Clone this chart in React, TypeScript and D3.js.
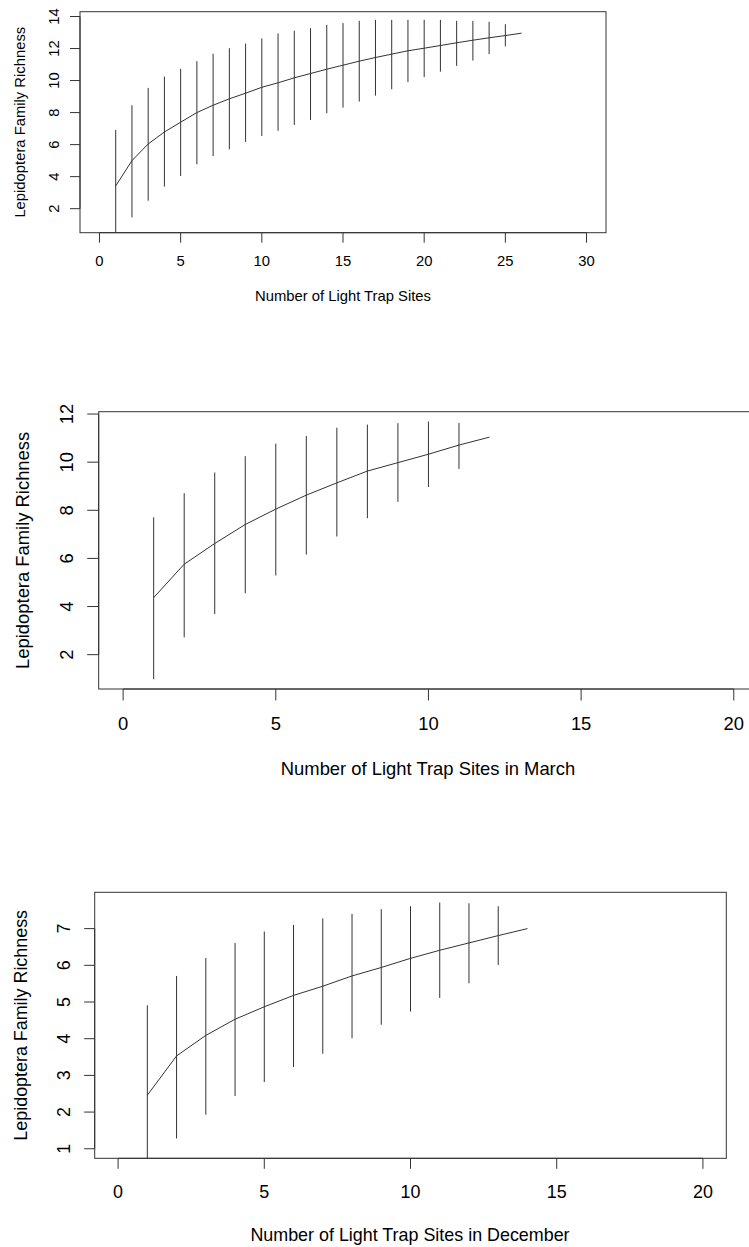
import React from "react";
import * as d3 from "d3";

// ---- Data: all light trap sites (x = 1..26) ----
const allSites = d3.range(1, 27);
const allMean = [3.42, 5.0, 6.04, 6.79, 7.4, 8.0, 8.46, 8.86, 9.21, 9.58, 9.86, 10.17, 10.44, 10.71, 10.96, 11.21, 11.44, 11.65, 11.86, 12.02, 12.19, 12.36, 12.52, 12.67, 12.81, 12.96];
const allUpper = [6.92, 8.46, 9.54, 10.25, 10.73, 11.21, 11.67, 12.02, 12.31, 12.63, 12.94, 13.11, 13.27, 13.48, 13.59, 13.73, 13.79, 13.79, 13.79, 13.79, 13.79, 13.73, 13.73, 13.67, 13.52, 12.96];
const allLower = [-0.08, 1.46, 2.5, 3.38, 4.04, 4.77, 5.29, 5.71, 6.17, 6.54, 6.86, 7.23, 7.54, 7.96, 8.31, 8.69, 9.06, 9.46, 9.9, 10.21, 10.56, 10.92, 11.25, 11.65, 12.13, 12.96];

// ---- Data: March (x = 1..12) ----
const marchSites = d3.range(1, 13);
const marchMean = [4.37, 5.76, 6.62, 7.41, 8.05, 8.63, 9.14, 9.63, 9.98, 10.33, 10.71, 11.04];
const marchUpper = [7.71, 8.71, 9.57, 10.25, 10.77, 11.09, 11.43, 11.56, 11.62, 11.69, 11.63, 11.04];
const marchLower = [0.98, 2.72, 3.69, 4.55, 5.29, 6.16, 6.91, 7.67, 8.35, 8.97, 9.72, 11.04];

// ---- Data: December (x = 1..14) ----
const decSites = d3.range(1, 15);
const decMean = [2.46, 3.53, 4.09, 4.53, 4.87, 5.18, 5.43, 5.71, 5.94, 6.19, 6.41, 6.61, 6.81, 7.0];
const decUpper = [4.91, 5.71, 6.2, 6.61, 6.92, 7.1, 7.28, 7.4, 7.53, 7.61, 7.71, 7.69, 7.61, 7.0];
const decLower = [0.01, 1.28, 1.93, 2.44, 2.82, 3.23, 3.59, 4.01, 4.38, 4.74, 5.11, 5.51, 6.01, 7.0];

const xTicksAll = [0, 5, 10, 15, 20, 25, 30];
const xTicksMonth = [0, 5, 10, 15, 20];
const yTicksAll = [2, 4, 6, 8, 10, 12, 14];
const yTicksMarch = [2, 4, 6, 8, 10, 12];
const yTicksDec = [1, 2, 3, 4, 5, 6, 7];

const yTitle = "Lepidoptera Family Richness";

const FONT = "'Liberation Sans', Arial, Helvetica, sans-serif";
const INK = "#333";

type PanelProps = {
  id: string;
  sites: number[];
  mean: number[];
  upper: number[];
  lower: number[];
  xDomain: [number, number];
  yDomain: [number, number];
  box: { left: number; right: number; top: number; bottom: number };
  xTicks: number[];
  yTicks: number[];
  xTitle: string;
  fontSize: number;
  tickLen: number;
  yTickLabelX: number;
  yTitleX: number;
  xTickLabelY: number;
  xTitleY: number;
  xTitleX: number;
};

function Panel(p: PanelProps) {
  const x = d3.scaleLinear().domain(p.xDomain).range([p.box.left, p.box.right]);
  const y = d3.scaleLinear().domain(p.yDomain).range([p.box.bottom, p.box.top]);
  const line = d3
    .line<number>()
    .x((_, i) => x(p.sites[i]))
    .y((d) => y(d));
  const clipId = `clip-${p.id}`;
  const { left, right, top, bottom } = p.box;
  const yMid = (top + bottom) / 2;
  return (
    <g>
      <defs>
        <clipPath id={clipId}>
          <rect x={left} y={top} width={right - left} height={bottom - top} />
        </clipPath>
      </defs>
      <g clipPath={`url(#${clipId})`}>
        {p.sites.map((s, i) =>
          p.upper[i] - p.lower[i] > 0.01 ? (
            <line
              key={s}
              x1={x(s)}
              x2={x(s)}
              y1={y(p.upper[i])}
              y2={y(p.lower[i])}
              stroke={INK}
              strokeWidth={1}
            />
          ) : null
        )}
        <path d={line(p.mean) || ""} fill="none" stroke={INK} strokeWidth={1} />
      </g>
      <rect
        x={left}
        y={top}
        width={right - left}
        height={bottom - top}
        fill="none"
        stroke={INK}
        strokeWidth={1}
      />
      {/* x axis */}
      <line x1={x(p.xTicks[0])} x2={x(p.xTicks[p.xTicks.length - 1])} y1={bottom} y2={bottom} stroke={INK} />
      {p.xTicks.map((t) => (
        <g key={`xt${t}`}>
          <line x1={x(t)} x2={x(t)} y1={bottom} y2={bottom + p.tickLen} stroke={INK} />
          <text
            x={x(t)}
            y={p.xTickLabelY}
            textAnchor="middle"
            dominantBaseline="central"
            fontFamily={FONT}
            fontSize={p.fontSize}
            fill="#000"
          >
            {t}
          </text>
        </g>
      ))}
      {/* y axis */}
      <line x1={left} x2={left} y1={y(p.yTicks[0])} y2={y(p.yTicks[p.yTicks.length - 1])} stroke={INK} />
      {p.yTicks.map((t) => (
        <g key={`yt${t}`}>
          <line x1={left - p.tickLen} x2={left} y1={y(t)} y2={y(t)} stroke={INK} />
          <text
            transform={`translate(${p.yTickLabelX},${y(t)}) rotate(-90)`}
            textAnchor="middle"
            dominantBaseline="central"
            fontFamily={FONT}
            fontSize={p.fontSize}
            fill="#000"
          >
            {t}
          </text>
        </g>
      ))}
      <text
        x={p.xTitleX}
        y={p.xTitleY}
        textAnchor="middle"
        dominantBaseline="central"
        fontFamily={FONT}
        fontSize={p.fontSize}
        fill="#000"
      >
        {p.xTitle}
      </text>
      <text
        transform={`translate(${p.yTitleX},${yMid}) rotate(-90)`}
        textAnchor="middle"
        dominantBaseline="central"
        fontFamily={FONT}
        fontSize={p.fontSize}
        fill="#000"
      >
        {yTitle}
      </text>
    </g>
  );
}

export default function App() {
  return (
    <svg
      width={749}
      height={1247}
      style={{ position: "absolute", left: 0, top: 0, background: "#fff" }}
    >
      <rect x={0} y={0} width={749} height={1247} fill="#fff" />
      <Panel
        id="all"
        sites={allSites}
        mean={allMean}
        upper={allUpper}
        lower={allLower}
        xDomain={[-1.2, 31.2]}
        yDomain={[0.5, 14.3]}
        box={{ left: 80, right: 606, top: 11.7, bottom: 232.7 }}
        xTicks={xTicksAll}
        yTicks={yTicksAll}
        xTitle="Number of Light Trap Sites"
        fontSize={14.8}
        tickLen={10}
        yTickLabelX={53.5}
        yTitleX={19.5}
        xTickLabelY={261}
        xTitleY={296}
        xTitleX={343}
      />
      <Panel
        id="march"
        sites={marchSites}
        mean={marchMean}
        upper={marchUpper}
        lower={marchLower}
        xDomain={[-0.8, 20.8]}
        yDomain={[0.573, 12.097]}
        box={{ left: 98.7, right: 758.2, top: 411.7, bottom: 689 }}
        xTicks={xTicksMonth}
        yTicks={yTicksMarch}
        xTitle="Number of Light Trap Sites in March"
        fontSize={18.4}
        tickLen={11.5}
        yTickLabelX={66.5}
        yTitleX={22}
        xTickLabelY={723.5}
        xTitleY={768.5}
        xTitleX={428}
      />
      <Panel
        id="dec"
        sites={decSites}
        mean={decMean}
        upper={decUpper}
        lower={decLower}
        xDomain={[-0.8, 20.8]}
        yDomain={[0.74, 7.99]}
        box={{ left: 94.7, right: 726.3, top: 892.3, bottom: 1158.3 }}
        xTicks={xTicksMonth}
        yTicks={yTicksDec}
        xTitle="Number of Light Trap Sites in December"
        fontSize={17.9}
        tickLen={10.5}
        yTickLabelX={63.5}
        yTitleX={21}
        xTickLabelY={1192}
        xTitleY={1235}
        xTitleX={410}
      />
    </svg>
  );
}
